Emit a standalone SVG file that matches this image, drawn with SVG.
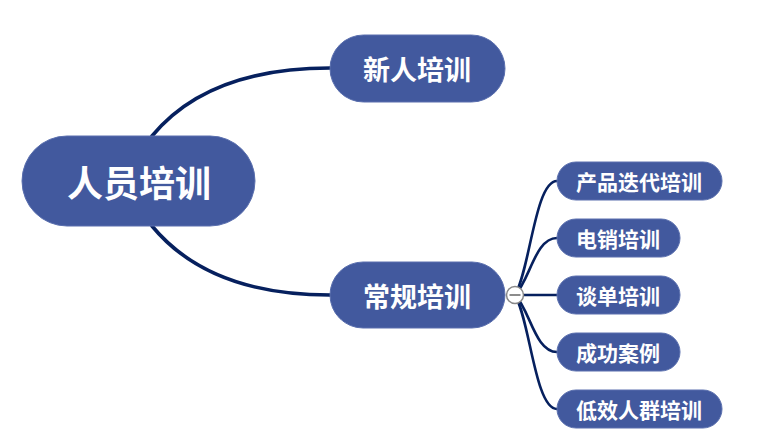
<svg xmlns="http://www.w3.org/2000/svg" width="758" height="446" viewBox="0 0 758 446">
<style>
.n{fill:#42599e;stroke:#5a6fae;stroke-width:1}
.t{fill:#fff;font-family:"Noto Sans CJK SC","Noto Sans",sans-serif;font-weight:bold;text-anchor:middle;dominant-baseline:central}
.c{fill:none;stroke:#06205e;stroke-linecap:round}
</style>
<rect width="758" height="446" fill="#fff"/>
<g id="connectors">
<path class="c" stroke-width="3.6" d="M152,136 C190,90 250,68 330,68"/>
<path class="c" stroke-width="3.6" d="M152,226 C190,272 250,295 330,295"/>
<path class="c" stroke-width="2.6" d="M515,295 C530,270 535,181 557,181"/>
<path class="c" stroke-width="2.6" d="M515,295 C530,280 535,238 557,238"/>
<path class="c" stroke-width="2.6" d="M515,295 L557,295"/>
<path class="c" stroke-width="2.6" d="M515,295 C530,310 535,352 557,352"/>
<path class="c" stroke-width="2.6" d="M515,295 C530,320 535,409 557,409"/>
</g>
<g id="root"><rect class="n" x="22" y="136" width="233" height="90" rx="45"/><text class="t" x="139" y="181" font-size="36">人员培训</text></g>
<g id="xinren"><rect class="n" x="330" y="35" width="175" height="67" rx="33.5"/><text class="t" x="417" y="68" font-size="27">新人培训</text></g>
<g id="changgui"><rect class="n" x="330" y="262" width="175" height="66" rx="33"/><text class="t" x="417" y="295" font-size="27">常规培训</text></g>
<g id="collapse"><circle cx="515" cy="295" r="8.5" fill="#fff" stroke="#888" stroke-width="1.5"/><line x1="509.5" y1="295" x2="520.5" y2="295" stroke="#666" stroke-width="1.5"/></g>
<g id="c1"><rect class="n" x="557" y="162" width="165" height="38" rx="19"/><text class="t" x="639" y="181" font-size="21">产品迭代培训</text></g>
<g id="c2"><rect class="n" x="557" y="219" width="123" height="38" rx="19"/><text class="t" x="618" y="238" font-size="21">电销培训</text></g>
<g id="c3"><rect class="n" x="557" y="276" width="123" height="38" rx="19"/><text class="t" x="618" y="295" font-size="21">谈单培训</text></g>
<g id="c4"><rect class="n" x="557" y="333" width="123" height="38" rx="19"/><text class="t" x="618" y="352" font-size="21">成功案例</text></g>
<g id="c5"><rect class="n" x="557" y="390" width="165" height="38" rx="19"/><text class="t" x="639" y="409" font-size="21">低效人群培训</text></g>
</svg>
